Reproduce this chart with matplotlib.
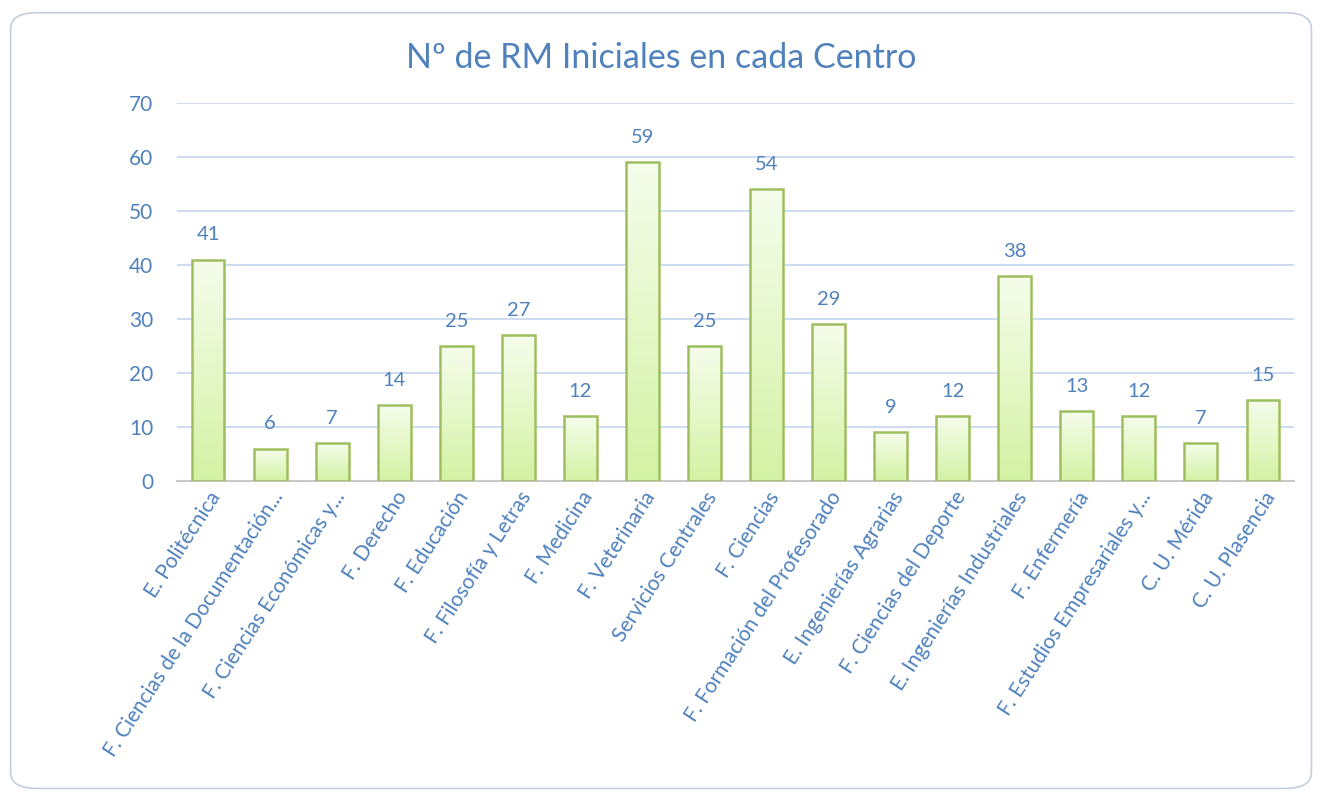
import numpy as np
import matplotlib.pyplot as plt
from matplotlib.patches import FancyBboxPatch
from matplotlib.colors import LinearSegmentedColormap

centros = ['E. Politécnica', 'F. Ciencias de la Documentación...', 'F. Ciencias Económicas y...',
           'F. Derecho', 'F. Educación', 'F. Filosofía y Letras', 'F. Medicina', 'F. Veterinaria',
           'Servicios Centrales', 'F. Ciencias', 'F. Formación del Profesorado',
           'E. Ingenierías Agrarias', 'F. Ciencias del Deporte', 'E. Ingenierías Industriales',
           'F. Enfermería', 'F. Estudios Empresariales y...', 'C. U. Mérida', 'C. U. Plasencia']
rm_iniciales = [41, 6, 7, 14, 25, 27, 12, 59, 25, 54, 29, 9, 12, 38, 13, 12, 7, 15]

azul = '#4F81BD'
plt.rcParams['font.family'] = ['Lato', 'DejaVu Sans']

fig = plt.figure(figsize=(13.22, 7.98), dpi=100)
# rounded frame around the chart
marco = FancyBboxPatch((0.008, 0.012), 0.984, 0.972, boxstyle='round,pad=0,rounding_size=0.02',
                       transform=fig.transFigure, facecolor='none', edgecolor='#C5CEDB',
                       linewidth=1.2, zorder=-1)
fig.patches.append(marco)

ax = fig.add_axes([177/1322, 1 - 481/798, (1294-177)/1322, (481-103)/798])
ax.set_facecolor('none')

x = np.arange(len(centros))
barras = ax.bar(x, rm_iniciales, width=0.53, facecolor='none', edgecolor='#9FBE5F', linewidth=1.8, zorder=3)

# gradient fill: pale at the top, light green at the bottom
grad = np.linspace(0, 1, 256).reshape(-1, 1)
cmap = LinearSegmentedColormap.from_list('verde', ['#F6FDEC', '#D4F2A4'])
for b in barras:
    x0, w, h = b.get_x(), b.get_width(), b.get_height()
    im = ax.imshow(grad, extent=[x0, x0 + w, 0, h], origin='upper', cmap=cmap,
                   aspect='auto', zorder=2)
    im.set_clip_path(b)

for xi, v in zip(x, rm_iniciales):
    ax.text(xi, v + 3, str(v), ha='center', va='bottom', color=azul, fontsize=14.5)

ax.set_xlim(-0.5, len(centros) - 0.5)
ax.set_ylim(0, 70)
ax.set_yticks(range(0, 71, 10))
ax.grid(axis='y', color='#C3D5EE', linewidth=1.2, zorder=0)
ax.set_axisbelow(True)
for s in ['top', 'right', 'left']:
    ax.spines[s].set_visible(False)
ax.spines['bottom'].set_color('#C8C8C8')
ax.spines['bottom'].set_linewidth(1.5)
ax.tick_params(axis='y', length=0, labelcolor=azul, labelsize=15, pad=17)
ax.tick_params(axis='x', length=0, labelcolor=azul, labelsize=15, pad=5)
ax.set_xticks(x)
ax.set_xticklabels(centros, rotation=57, ha='right', rotation_mode='anchor')

fig.text(0.5, 0.927, 'Nº de RM Iniciales en cada Centro', ha='center', va='center',
         color=azul, fontsize=24.5)

fig.savefig('out.png', dpi=100)
